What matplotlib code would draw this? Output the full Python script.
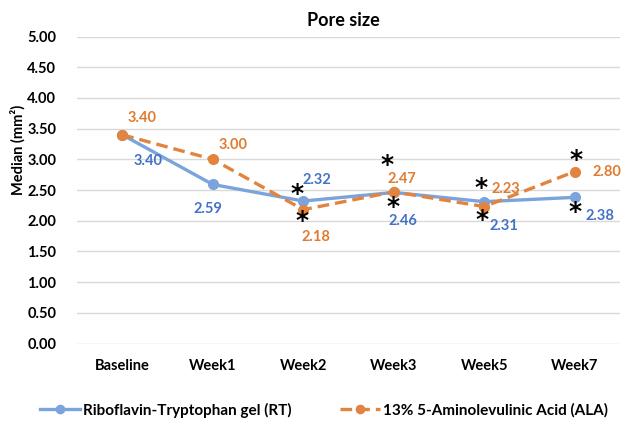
import matplotlib
matplotlib.use("Agg")
import matplotlib.pyplot as plt

plt.rcParams["font.family"] = ["Lato", "DejaVu Sans"]
plt.rcParams["font.weight"] = "bold"
plt.rcParams["mathtext.fontset"] = "dejavusans"

weeks = ["Baseline", "Week1", "Week2", "Week3", "Week5", "Week7"]
rt_values = [3.40, 2.59, 2.32, 2.46, 2.31, 2.38]
ala_values = [3.40, 3.00, 2.18, 2.47, 2.23, 2.80]
# significance marks (True = asterisk next to the label)
rt_signif = [False, False, True, True, True, True]
ala_signif = [False, False, True, True, True, True]

rt_name = "Riboflavin-Tryptophan gel (RT)"
ala_name = "13% 5-Aminolevulinic Acid (ALA)"

RT_LINE = "#7BA3DC"
RT_TEXT = "#4472C4"
ALA_LINE = "#E2843F"
ALA_TEXT = "#E07B30"

# label offsets in pixels (dx, dy) relative to each point
rt_lab_off = [(26, -26), (-5, -25), (14, 21), (9, -29), (20, -24), (25, -19)]
ala_lab_off = [(20, 17), (20, 14), (13, -27), (8, 13), (22, 18), (32, 0)]
# asterisk centre offsets in pixels
rt_star_off = [None, None, (-6, 10), (0, -12), (-2, -16), (1, -12)]
ala_star_off = [None, None, (-1, -9), (-6, 29), (-3, 21), (2, 14)]

fig = plt.figure(figsize=(6.26, 4.26), dpi=100)
ax = fig.add_axes([77 / 626, 1 - 343.5 / 426, 543 / 626, 307 / 426])

x = list(range(len(weeks)))
ax.plot(x, rt_values, color=RT_LINE, lw=2.4, marker="o", ms=7, label=rt_name, zorder=3)
ax.plot(x, ala_values, color=ALA_LINE, lw=2.4, ls=(0, (3.5, 1.8)), marker="o", ms=7,
        label=ala_name, zorder=3)


def put_labels(values, lab_off, signif, star_off, color):
    for i, v in enumerate(values):
        dx, dy = lab_off[i]
        ax.annotate(f"{v:.2f}", (i, v), xytext=(dx, dy), textcoords="offset pixels",
                    ha="center", va="center", color=color, fontsize=10.5,
                    fontweight="bold")
        if signif[i]:
            sx, sy = star_off[i]
            ax.annotate(r"$\mathbf{*}$", (i, v), xytext=(sx, sy), textcoords="offset pixels",
                        ha="center", va="center", color="black", fontsize=18)


put_labels(rt_values, rt_lab_off, rt_signif, rt_star_off, RT_TEXT)
put_labels(ala_values, ala_lab_off, ala_signif, ala_star_off, ALA_TEXT)

ax.set_xlim(-0.5, len(weeks) - 0.5)
ax.set_ylim(0, 5)
ax.set_yticks([i * 0.5 for i in range(11)])
ax.set_yticklabels([f"{i * 0.5:.2f}" for i in range(11)])
ax.set_xticks(x)
ax.set_xticklabels(weeks)
ax.tick_params(length=0, labelsize=10.5)
ax.tick_params(axis="x", pad=11)
ax.tick_params(axis="y", pad=15)
ax.grid(axis="y", color="#D9D9D9", lw=1)
ax.set_axisbelow(True)
for s in ax.spines.values():
    s.set_visible(False)

fig.text(18 / 626, 1 - 150 / 426, "Median (mm²)", rotation=90, ha="center", va="center",
         fontsize=10.5, fontweight="bold")
fig.text(343.5 / 626, 1 - 21 / 426, "Pore size", ha="center", va="center",
         fontsize=13, fontweight="bold")

fig.legend(loc="center left", bbox_to_anchor=(40 / 626, 1 - 410 / 426), ncol=2,
           frameon=False, fontsize=11, handlelength=2.6, handletextpad=0.2,
           columnspacing=3.2, borderaxespad=0, borderpad=0, markerscale=0.85)

fig.savefig("out.png", dpi=100)
